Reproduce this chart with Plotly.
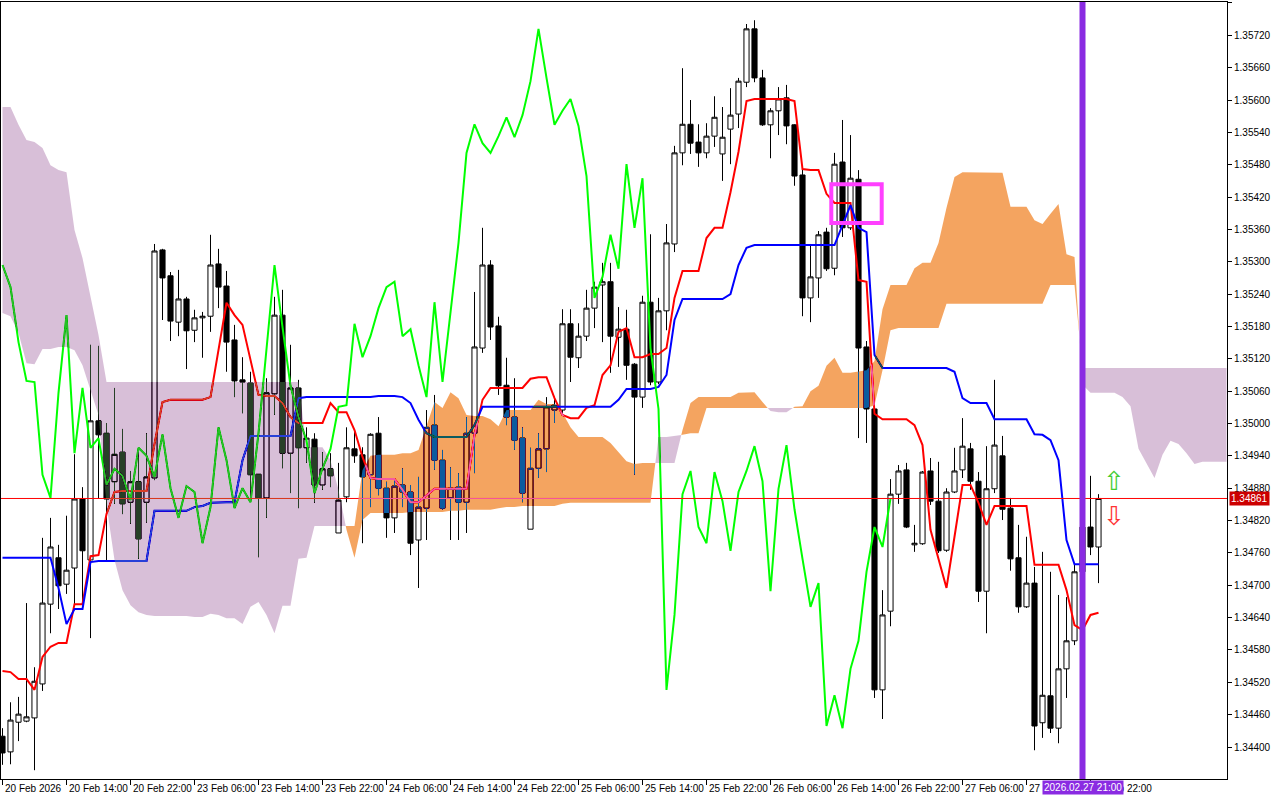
import plotly.graph_objects as go

# ---------------- data (EURUSD-like H1) ----------------
open_ = [1.34420,1.34391,1.34446,1.34448,1.34454,1.34517,1.34665,1.34751,1.34702,1.34732,
         1.34860,1.34747,1.35005,1.34982,1.34892,1.34947,1.34854,1.34892,1.34854,1.34899,
         1.35322,1.35274,1.35188,1.35231,1.35173,1.35196,1.35199,1.35296,1.35255,1.35155,
         1.35081,1.35075,1.34906,1.34862,1.35055,1.35201,1.34945,1.35066,1.34955,1.34971,
         1.34886,1.34916,1.34797,1.34864,1.34953,1.34942,1.34905,1.34982,1.34880,1.34825,
         1.34886,1.34873,1.34784,1.34843,1.34997,1.34932,1.34862,1.34882,1.34854,1.34982,
         1.35140,1.35294,1.35181,1.35071,1.35012,1.34973,1.34804,1.34917,1.34953,1.35025,
         1.35025,1.35185,1.35122,1.35162,1.35214,1.35257,1.35263,1.35160,1.35175,1.35110,
         1.35049,1.35225,1.35077,1.35209,1.35333,1.35502,1.35555,1.35522,1.35502,1.35533,
         1.35500,1.35546,1.35574,1.35633,1.35732,1.35641,1.35554,1.35580,1.35604,1.35554,
         1.35461,1.35233,1.35270,1.35355,1.35288,1.35485,1.35363,1.35453,1.35142,1.35027,
         1.34506,1.34652,1.34869,1.34914,1.34775,1.34777,1.34912,1.34856,1.34765,1.34873,
         1.34914,1.34953,1.34893,1.34689,1.34879,1.34940,1.34843,1.34751,1.34660,1.34704,
         1.34445,1.34495,1.34435,1.34545,1.34597,1.34725,1.34808,1.34771]
high = [1.34435,1.34483,1.34493,1.34667,1.34548,1.34788,1.34825,1.34775,1.34829,1.34943,
        1.34882,1.35146,1.35144,1.35001,1.35066,1.34990,1.34912,1.34951,1.34982,1.35333,
        1.35324,1.35281,1.35285,1.35235,1.35211,1.35207,1.35350,1.35324,1.35283,1.35183,
        1.35123,1.35096,1.34906,1.35084,1.35235,1.35248,1.35146,1.35081,1.34993,1.34982,
        1.34947,1.34945,1.34927,1.34993,1.34984,1.34956,1.34982,1.35012,1.34892,1.34895,
        1.34917,1.34886,1.34901,1.35025,1.35053,1.34951,1.34919,1.34908,1.35012,1.35244,
        1.35363,1.35303,1.35198,1.35122,1.35084,1.34993,1.34955,1.34982,1.35049,1.35047,
        1.35212,1.35212,1.35186,1.35248,1.35263,1.35298,1.35298,1.35216,1.35211,1.35112,
        1.35237,1.35351,1.35233,1.35370,1.35515,1.35659,1.35600,1.35555,1.35557,1.35607,
        1.35587,1.35622,1.35641,1.35741,1.35748,1.35656,1.35585,1.35624,1.35628,1.35555,
        1.35476,1.35333,1.35357,1.35363,1.35502,1.35563,1.35535,1.35470,1.35153,1.35031,
        1.34691,1.34897,1.34923,1.34927,1.34812,1.34912,1.34936,1.34929,1.34880,1.34955,
        1.35010,1.34964,1.34910,1.34958,1.35081,1.34977,1.34862,1.34812,1.34790,1.34734,
        1.34762,1.34725,1.34682,1.34678,1.34738,1.34821,1.34903,1.34869]
low = [1.34367,1.34368,1.34411,1.34446,1.34357,1.34504,1.34611,1.34656,1.34684,1.34663,
       1.34665,1.34602,1.34860,1.34745,1.34851,1.34832,1.34814,1.34749,1.34816,1.34895,
       1.35192,1.35153,1.35162,1.35101,1.35151,1.35122,1.35170,1.35214,1.35096,1.35049,
       1.35019,1.34864,1.34752,1.34825,1.35016,1.34917,1.34871,1.34843,1.34927,1.34853,
       1.34877,1.34882,1.34797,1.34854,1.34927,1.34778,1.34845,1.34867,1.34788,1.34797,
       1.34845,1.34756,1.34695,1.34784,1.34914,1.34840,1.34784,1.34784,1.34797,1.34908,
       1.35131,1.35155,1.35053,1.34997,1.34951,1.34854,1.34804,1.34899,1.34910,1.35001,
       1.35019,1.35077,1.35103,1.35153,1.35177,1.35151,1.35094,1.35105,1.35081,1.34905,
       1.35029,1.35071,1.35073,1.35173,1.35318,1.35479,1.35500,1.35476,1.35492,1.35513,
       1.35450,1.35481,1.35548,1.35624,1.35633,1.35552,1.35492,1.35535,1.35518,1.35441,
       1.35199,1.35188,1.35233,1.35283,1.35275,1.35346,1.35359,1.34973,1.34964,1.34491,
       1.34452,1.34624,1.34851,1.34806,1.34762,1.34775,1.34849,1.34760,1.34762,1.34871,
       1.34899,1.34877,1.34669,1.34611,1.34871,1.34821,1.34727,1.34649,1.34658,1.34394,
       1.34417,1.34426,1.34407,1.34491,1.34589,1.34719,1.34756,1.34704]
close = [1.34389,1.34450,1.34461,1.34456,1.34522,1.34667,1.34771,1.34699,1.34728,1.34860,
         1.34764,1.35005,1.34979,1.34860,1.34943,1.34851,1.34892,1.34786,1.34901,1.35320,
         1.35270,1.35190,1.35231,1.35172,1.35196,1.35199,1.35294,1.35253,1.35151,1.35079,
         1.35077,1.34905,1.34862,1.35057,1.35201,1.34945,1.35066,1.34955,1.34973,1.34886,
         1.34916,1.34903,1.34858,1.34955,1.34940,1.34901,1.34980,1.34880,1.34825,1.34884,
         1.34873,1.34778,1.34845,1.34993,1.34932,1.34843,1.34880,1.34854,1.34982,1.35142,
         1.35294,1.35179,1.35070,1.35012,1.34969,1.34871,1.34917,1.34953,1.35031,1.35034,
         1.35185,1.35123,1.35162,1.35214,1.35253,1.35263,1.35162,1.35175,1.35108,1.35049,
         1.35225,1.35077,1.35209,1.35335,1.35502,1.35555,1.35520,1.35502,1.35533,1.35568,
         1.35531,1.35572,1.35635,1.35732,1.35641,1.35554,1.35580,1.35602,1.35552,1.35459,
         1.35233,1.35272,1.35350,1.35287,1.35481,1.35363,1.35455,1.35140,1.35027,1.34506,
         1.34645,1.34869,1.34912,1.34808,1.34778,1.34910,1.34856,1.34764,1.34873,1.34912,
         1.34958,1.34893,1.34689,1.34879,1.34960,1.34841,1.34749,1.34660,1.34704,1.34439,
         1.34496,1.34435,1.34545,1.34597,1.34725,1.34808,1.34771,1.34861]

tenkan = [1.34541,1.34539,1.34526,1.34526,1.34506,1.34567,1.34586,1.34593,1.34593,1.34665,
          1.34665,1.34754,1.34756,1.34832,1.34873,1.34875,1.34875,1.34875,1.34875,1.34962,
          1.35040,1.35044,1.35044,1.35044,1.35044,1.35044,1.35049,1.35136,1.35224,1.35201,
          1.35183,1.35118,1.35053,1.35051,1.35051,1.35038,1.35012,1.35001,1.35001,1.35001,
          1.35001,1.35038,1.35021,1.35021,1.34988,1.34938,1.34899,1.34897,1.34897,1.34897,
          1.34877,1.34854,1.34854,1.34867,1.34879,1.34879,1.34879,1.34879,1.34879,1.34979,
          1.35044,1.35066,1.35066,1.35066,1.35066,1.35066,1.35083,1.35086,1.35086,1.35047,
          1.35016,1.35010,1.35010,1.35029,1.35034,1.35090,1.35108,1.35170,1.35177,1.35123,
          1.35123,1.35129,1.35129,1.35140,1.35233,1.35283,1.35283,1.35283,1.35344,1.35363,
          1.35363,1.35429,1.35504,1.35598,1.35602,1.35602,1.35602,1.35602,1.35602,1.35598,
          1.35472,1.35470,1.35470,1.35426,1.35409,1.35409,1.35409,1.35266,1.35263,1.35018,
          1.35008,1.35008,1.35008,1.35008,1.34997,1.34960,1.34803,1.34747,1.34695,1.34790,
          1.34886,1.34886,1.34853,1.34812,1.34847,1.34847,1.34847,1.34847,1.34847,1.34738,
          1.34738,1.34738,1.34738,1.34691,1.34626,1.34617,1.34645,1.34649]
kijun = [1.34751,1.34751,1.34751,1.34751,1.34751,1.34751,1.34751,1.34695,1.34628,1.34656,
         1.34656,1.34743,1.34745,1.34745,1.34745,1.34745,1.34745,1.34745,1.34745,1.34838,
         1.34838,1.34838,1.34838,1.34838,1.34845,1.34847,1.34853,1.34854,1.34854,1.34854,
         1.34932,1.34977,1.34977,1.34977,1.34977,1.34977,1.34977,1.35047,1.35049,1.35049,
         1.35049,1.35049,1.35049,1.35049,1.35049,1.35049,1.35049,1.35051,1.35051,1.35051,
         1.35049,1.35038,1.35007,1.34982,1.34975,1.34975,1.34975,1.34975,1.34975,1.34997,
         1.35031,1.35031,1.35031,1.35031,1.35031,1.35031,1.35031,1.35031,1.35031,1.35031,
         1.35031,1.35031,1.35031,1.35031,1.35031,1.35031,1.35031,1.35044,1.35064,1.35064,
         1.35064,1.35064,1.35068,1.35090,1.35192,1.35231,1.35231,1.35231,1.35231,1.35231,
         1.35231,1.35240,1.35294,1.35326,1.35331,1.35331,1.35331,1.35331,1.35331,1.35331,
         1.35331,1.35331,1.35331,1.35331,1.35331,1.35368,1.35405,1.35363,1.35355,1.35127,
         1.35103,1.35103,1.35103,1.35103,1.35103,1.35103,1.35103,1.35103,1.35103,1.35096,
         1.35047,1.35038,1.35038,1.35038,1.35008,1.35008,1.35008,1.35008,1.35008,1.34980,
         1.34979,1.34969,1.34932,1.34784,1.34739,1.34739,1.34739,1.34739]
# Senkou spans (already displaced 26 bars forward, so they run past the last bar)
span_a = [1.35205,1.35199,1.35168,1.35112,1.35110,1.35138,1.35138,1.35142,1.35142,1.35136,
          1.35108,1.35062,1.35016,1.34849,1.34747,1.34691,1.34663,1.34650,1.34645,1.34643,
          1.34643,1.34643,1.34643,1.34643,1.34641,1.34641,1.34647,1.34645,1.34639,1.34639,
          1.34628,1.34660,1.34669,1.34645,1.34611,1.34662,1.34662,1.34749,1.34751,1.34810,
          1.34810,1.34810,1.34810,1.34810,1.34810,1.34914,1.34940,1.34942,1.34942,1.34942,
          1.34945,1.34945,1.34951,1.34995,1.35040,1.35029,1.35058,1.35047,1.35016,1.35014,
          1.35014,1.35008,1.34995,1.35025,1.35025,1.35025,1.35025,1.35044,1.35036,1.35036,
          1.35020,1.34993,1.34975,1.34975,1.34975,1.34975,1.34964,1.34947,1.34930,1.34925,
          1.34927,1.34927,1.34927,1.34927,1.34927,1.34988,1.35038,1.35049,1.35049,1.35049,
          1.35049,1.35049,1.35057,1.35058,1.35058,1.35040,1.35023,1.35021,1.35021,1.35031,
          1.35032,1.35060,1.35070,1.35107,1.35122,1.35094,1.35094,1.35097,1.35099,1.35116,
          1.35212,1.35257,1.35257,1.35257,1.35288,1.35298,1.35298,1.35335,1.35400,1.35457,
          1.35466,1.35466,1.35466,1.35466,1.35466,1.35465,1.35402,1.35402,1.35402,1.35377,
          1.35370,1.35389,1.35407,1.35314,1.35309,1.35072,1.35057,1.35057,1.35057,1.35057,
          1.35049,1.35032,1.34953,1.34925,1.34899,1.34942,1.34968,1.34962,1.34945,1.34925,
          1.34929,1.34929,1.34929,1.34929]
span_b = [1.35587,1.35587,1.35554,1.35526,1.35522,1.35511,1.35479,1.35470,1.35466,1.35359,
          1.35307,1.35238,1.35164,1.35077,1.35077,1.35077,1.35077,1.35077,1.35077,1.35077,
          1.35077,1.35077,1.35077,1.35077,1.35077,1.35077,1.35077,1.35077,1.35077,1.35077,
          1.35077,1.35077,1.35077,1.35077,1.35077,1.35077,1.35077,1.35077,1.34956,1.34956,
          1.34956,1.34932,1.34877,1.34803,1.34751,1.34821,1.34834,1.34834,1.34834,1.34834,
          1.34834,1.34836,1.34836,1.34836,1.34836,1.34836,1.34838,1.34838,1.34840,1.34840,
          1.34840,1.34840,1.34843,1.34845,1.34845,1.34847,1.34847,1.34847,1.34847,1.34847,
          1.34851,1.34853,1.34853,1.34853,1.34853,1.34853,1.34853,1.34853,1.34853,1.34853,
          1.34853,1.34853,1.34975,1.34975,1.34977,1.34979,1.34982,1.34982,1.35029,1.35029,
          1.35029,1.35029,1.35029,1.35029,1.35029,1.35029,1.35029,1.35029,1.35029,1.35029,
          1.35029,1.35029,1.35029,1.35029,1.35029,1.35029,1.35029,1.35029,1.35029,1.35034,
          1.35099,1.35173,1.35177,1.35177,1.35177,1.35177,1.35177,1.35177,1.35222,1.35222,
          1.35222,1.35222,1.35222,1.35222,1.35222,1.35222,1.35222,1.35222,1.35222,1.35222,
          1.35222,1.35257,1.35257,1.35257,1.35257,1.35103,1.35103,1.35103,1.35103,1.35103,
          1.35103,1.35103,1.35103,1.35103,1.35103,1.35103,1.35103,1.35103,1.35103,1.35103,
          1.35103,1.35103,1.35103,1.35103]

time_labels = ["20 Feb 2026", "20 Feb 14:00", "20 Feb 22:00", "23 Feb 06:00", "23 Feb 14:00",
               "23 Feb 22:00", "24 Feb 06:00", "24 Feb 14:00", "24 Feb 22:00", "25 Feb 06:00",
               "25 Feb 14:00", "25 Feb 22:00", "26 Feb 06:00", "26 Feb 14:00", "26 Feb 22:00",
               "27 Feb 06:00", "27 Feb 14:00", "27 Feb 22:00"]
label_every = 8           # one time label every 8 hourly bars
vline_bar = 135           # 2026.02.27 21:00
vline_text = "2026.02.27 21:00"
price_ticks_start, price_ticks_step = 1.34400, 0.00060

# ---------------- figure ----------------
FONT = "Liberation Sans, Arial, sans-serif"
bars = list(range(len(close)))
x_lo, x_hi = -0.1875, 153.0625
y_lo, y_hi = 1.343407, 1.357818
fig = go.Figure()

# white backdrop inside the plot group (needed for the blended cloud)
fig.add_trace(go.Heatmap(z=[[0, 0], [0, 0]], x=[x_lo - 10, x_hi + 10], y=[y_lo - 0.01, y_hi + 0.01],
                         colorscale=[[0, "white"], [1, "white"]], showscale=False,
                         hoverinfo="skip"))

fig.add_trace(go.Candlestick(
    x=bars, open=open_, high=high, low=low, close=close,
    increasing=dict(fillcolor="white", line=dict(color="black", width=1)),
    decreasing=dict(fillcolor="black", line=dict(color="black", width=1)),
    whiskerwidth=0, hoverinfo="skip", showlegend=False))

# Ichimoku lines
fig.add_trace(go.Scatter(x=bars, y=tenkan, mode="lines",
                         line=dict(color="#FF0000", width=2), hoverinfo="skip"))
fig.add_trace(go.Scatter(x=bars, y=kijun, mode="lines",
                         line=dict(color="#0000FF", width=2), hoverinfo="skip"))
lag = 26
fig.add_trace(go.Scatter(x=bars[:-lag], y=close[lag:], mode="lines",
                         line=dict(color="#00FF00", width=2), hoverinfo="skip"))
# bid line
fig.add_trace(go.Scatter(x=[-5, 170], y=[close[-1], close[-1]], mode="lines",
                         line=dict(color="#FF0000", width=1), hoverinfo="skip"))

# cloud polygons (drawn with difference blending like MT4's XOR cloud)
ORANGE_INV = "#0B5B9F"   # inverse of sandybrown
THISTLE_INV = "#274027"  # inverse of thistle
cx = list(range(len(span_a)))
segs = []
sx, sa, sb = [cx[0]], [span_a[0]], [span_b[0]]
sign = span_a[0] >= span_b[0]
for i in range(1, len(cx)):
    s = span_a[i] >= span_b[i]
    if s != sign:
        d0 = span_a[i-1] - span_b[i-1]
        d1 = span_a[i] - span_b[i]
        t = d0 / (d0 - d1)
        xc = cx[i-1] + t * (cx[i] - cx[i-1])
        yc = span_a[i-1] + t * (span_a[i] - span_a[i-1])
        sx.append(xc); sa.append(yc); sb.append(yc)
        segs.append((sign, sx, sa, sb))
        sx, sa, sb = [xc], [yc], [yc]
        sign = s
    sx.append(cx[i]); sa.append(span_a[i]); sb.append(span_b[i])
segs.append((sign, sx, sa, sb))
for sg, xs_, as_, bs_ in segs:
    fig.add_trace(go.Scatter(x=xs_ + xs_[::-1], y=as_ + bs_[::-1], mode="lines",
                             fill="toself", fillcolor=ORANGE_INV if sg else THISTLE_INV,
                             line=dict(width=0), hoverinfo="skip"))

# ---------------- layout ----------------
fig.update_layout(
    width=1280, height=800, margin=dict(l=1, r=53, t=2, b=21),
    paper_bgcolor="white", plot_bgcolor="white", showlegend=False, hovermode=False,
    boxgap=0.2, boxgroupgap=0.2,
    font=dict(family=FONT, size=10, color="black"),
    xaxis=dict(range=[x_lo, x_hi], showgrid=False, zeroline=False, showline=True,
               linecolor="black", linewidth=1, mirror=True, ticks="outside", ticklen=5,
               tickcolor="black", tickvals=bars[::label_every], showticklabels=False,
               rangeslider=dict(visible=False), fixedrange=True),
    yaxis=dict(side="right", range=[y_lo, y_hi], tick0=price_ticks_start,
               dtick=price_ticks_step, tickformat=".5f", ticks="outside", ticklen=4,
               tickcolor="black", showgrid=False, zeroline=False, showline=True,
               linecolor="black", linewidth=1, mirror=True,
               tickfont=dict(family=FONT, size=10, color="black"), fixedrange=True),
)

annotations = []
for k, lab in enumerate(time_labels):
    annotations.append(dict(x=bars[k * label_every], y=0, xref="x", yref="paper",
                            text=lab, showarrow=False, xanchor="left", yanchor="top",
                            xshift=0, yshift=-2, font=dict(family=FONT, size=10, color="black")))
annotations.append(dict(x=vline_bar, y=0, xref="x", yref="paper", text=vline_text,
                        showarrow=False, xanchor="center", yanchor="top", yshift=-1,
                        bgcolor="#8A2BE2", borderpad=1,
                        font=dict(family=FONT, size=10, color="white")))
annotations.append(dict(x=1, y=close[-1], xref="paper", yref="y", text=f"{close[-1]:.5f}",
                        showarrow=False, xanchor="left", yanchor="middle", xshift=2,
                        bgcolor="#CC0000", borderpad=1,
                        font=dict(family=FONT, size=10, color="white")))
annotations.append(dict(x=138.9, y=1.34894, xref="x", yref="y", text="⇧", showarrow=False,
                        font=dict(family="DejaVu Sans", size=26, color="#44CC33")))
annotations.append(dict(x=138.9, y=1.34828, xref="x", yref="y", text="⇩", showarrow=False,
                        font=dict(family="DejaVu Sans", size=26, color="#FF3333")))
fig.update_layout(annotations=annotations)

fig.add_shape(type="line", x0=vline_bar, x1=vline_bar, y0=0, y1=1, xref="x", yref="paper",
              line=dict(color="#8A2BE2", width=6), layer="above")
fig.add_shape(type="rect", x0=103.6, x1=109.9, y0=1.35372, y1=1.35444, xref="x", yref="y",
              line=dict(color="#FF40FF", width=4), fillcolor="rgba(0,0,0,0)", layer="above")

post = ("var s=document.createElement('style');"
        "s.innerHTML='html,body{margin:0;padding:0;}.js-fill{mix-blend-mode:difference;}';"
        "document.head.appendChild(s);")
fig.write_html("out.html", config={"displayModeBar": False}, post_script=post)
